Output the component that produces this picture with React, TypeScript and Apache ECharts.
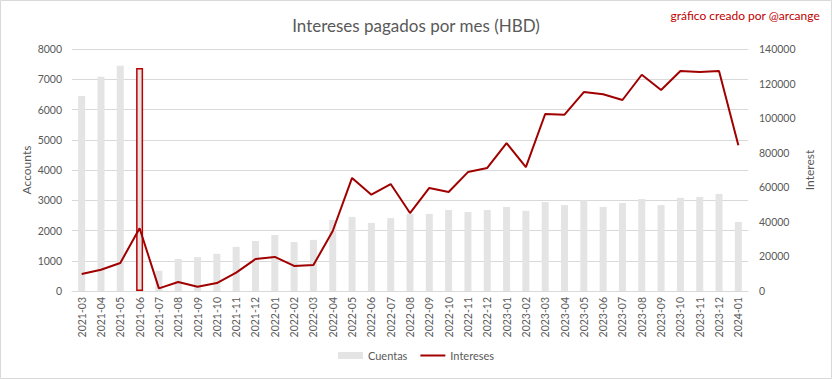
import React, { useEffect, useRef } from "react";
import * as echarts from "echarts";

const categories = [
  "2021-03","2021-04","2021-05","2021-06","2021-07","2021-08","2021-09","2021-10","2021-11","2021-12",
  "2022-01","2022-02","2022-03","2022-04","2022-05","2022-06","2022-07","2022-08","2022-09","2022-10","2022-11","2022-12",
  "2023-01","2023-02","2023-03","2023-04","2023-05","2023-06","2023-07","2023-08","2023-09","2023-10","2023-11","2023-12",
  "2024-01",
];

const cuentas = [
  6450, 7080, 7450, 7370, 670, 1060, 1120, 1230, 1460, 1650,
  1850, 1620, 1690, 2350, 2450, 2250, 2410, 2550, 2550, 2680, 2610, 2680,
  2780, 2650, 2940, 2840, 3000, 2780, 2910, 3040, 2840, 3080, 3110, 3210,
  2280,
];

const intereses = [
  9800, 12300, 16200, 36300, 1500, 5200, 2500, 4600, 10600, 18500,
  19700, 14500, 15000, 34700, 65400, 55700, 61900, 45100, 59600, 57300, 68800, 71200,
  85600, 71700, 102400, 102000, 115100, 113800, 110500, 125100, 116300, 127300, 126700, 127300,
  84300,
];

const highlighted = "2021-06";

const FONT = "Lato";
const GREY_TEXT = "#595959";
const RED = "#a00000";

export default function App() {
  const ref = useRef<HTMLDivElement>(null);
  useEffect(() => {
    if (!ref.current) return;
    const chart = echarts.init(ref.current, undefined, { renderer: "svg" });
    const plain = (v: number) => String(v);
    chart.setOption({
      animation: false,
      backgroundColor: "#ffffff",
      textStyle: { fontFamily: FONT },
      title: {
        text: "Intereses pagados por mes (HBD)",
        left: "center",
        top: 12,
        textStyle: { fontFamily: FONT, fontSize: 17, fontWeight: "normal", color: GREY_TEXT },
      },
      graphic: [
        {
          type: "rect",
          shape: { x: 0.5, y: 0.5, width: 831, height: 378 },
          style: { fill: "none", stroke: "#d9d9d9", lineWidth: 1 },
          silent: true,
        },
        {
          type: "text",
          right: 12,
          top: 9,
          style: { text: "gráfico creado por @arcange", fill: "#c00000", font: `12px ${FONT}` },
        },
      ],
      legend: {
        bottom: 13,
        left: "center",
        itemWidth: 25,
        itemHeight: 7,
        itemGap: 13,
        textStyle: { color: GREY_TEXT, fontSize: 11, fontFamily: FONT },
        data: [
          { name: "Cuentas", icon: "rect" },
          { name: "Intereses", icon: "path://M0,0M0,2.5H25V4.5H0ZM25,7" },
        ],
      },
      grid: { left: 72, right: 84, top: 49, bottom: 88, containLabel: false },
      xAxis: {
        type: "category",
        data: categories,
        axisTick: { show: false },
        axisLine: { lineStyle: { color: "#d9d9d9" } },
        axisLabel: { rotate: 90, color: GREY_TEXT, fontSize: 10.5, fontFamily: FONT, margin: 6, interval: 0 },
      },
      yAxis: [
        {
          type: "value",
          min: 0,
          max: 8000,
          interval: 1000,
          name: "Accounts",
          nameLocation: "middle",
          nameRotate: 90,
          nameGap: 40,
          nameMoveOverlap: false,
          nameTextStyle: { color: GREY_TEXT, fontSize: 12, fontFamily: FONT },
          axisLine: { show: false },
          axisTick: { show: false },
          axisLabel: { color: GREY_TEXT, fontSize: 10.5, fontFamily: FONT, margin: 10, formatter: plain },
          splitLine: { lineStyle: { color: "#d9d9d9" } },
        },
        {
          type: "value",
          min: 0,
          max: 140000,
          interval: 20000,
          name: "Interest",
          nameLocation: "middle",
          nameRotate: 90,
          nameGap: 55,
          nameMoveOverlap: false,
          nameTextStyle: { color: GREY_TEXT, fontSize: 12, fontFamily: FONT },
          axisLine: { show: false },
          axisTick: { show: false },
          axisLabel: { color: GREY_TEXT, fontSize: 10.5, fontFamily: FONT, margin: 11, formatter: plain },
          splitLine: { show: false },
        },
      ],
      series: [
        {
          name: "Cuentas",
          type: "bar",
          yAxisIndex: 0,
          barWidth: 7,
          itemStyle: { color: "#e4e4e4" },
          data: cuentas.map((v, i) =>
            categories[i] === highlighted
              ? { value: v, itemStyle: { color: "#e4e4e4", borderColor: "#c00000", borderWidth: 1.5 } }
              : v
          ),
        },
        {
          name: "Intereses",
          type: "line",
          yAxisIndex: 1,
          symbol: "none",
          showSymbol: false,
          z: 5,
          lineStyle: { color: RED, width: 2 },
          itemStyle: { color: RED },
          data: intereses,
        },
      ],
    });
    return () => chart.dispose();
  }, []);
  return (
    <div
      ref={ref}
      style={{ position: "fixed", left: 0, top: 0, width: 832, height: 379 }}
    />
  );
}
